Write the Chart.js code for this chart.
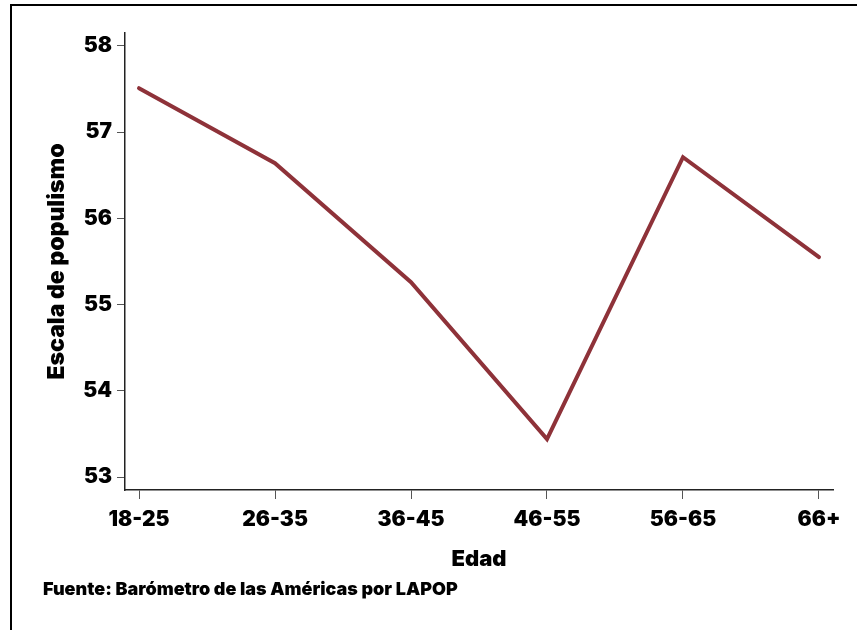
<!DOCTYPE html>
<html>
<head>
<meta charset="utf-8">
<script src="https://cdn.jsdelivr.net/npm/chart.js@4/dist/chart.umd.min.js"></script>
<style>
  html, body { margin: 0; padding: 0; background: #fff; }
  #wrap { position: relative; width: 857px; height: 630px; }
  #frame { position: absolute; left: 10px; top: 4px; right: 0; bottom: 0;
           border-left: 2.5px solid #000; border-top: 2.5px solid #000; }
</style>
</head>
<body>
<div id="wrap">
  <canvas id="myChart" width="857" height="630"></canvas>
  <div id="frame"></div>
</div>
<script>
(function() {
  'use strict';
  // age groups and mean populism score
  const categories = ["18-25", "26-35", "36-45", "46-55", "56-65", "66+"];
  const populism = [57.51, 56.64, 55.26, 53.44, 56.71, 55.55];
  const yTicks = [53, 54, 55, 56, 57, 58];

  const FONT = "Inter, 'DejaVu Sans', sans-serif";

  const chart = document.getElementById('myChart');
  new Chart(chart, {
    type: "line",
    data: {
      datasets: [{
        data: populism.map(function (v, i) { return { x: i, y: v }; }),
        borderColor: "#8E3239",
        borderWidth: 4,
        borderCapStyle: "round",
        borderJoinStyle: "miter",
        pointRadius: 0,
        tension: 0,
        fill: false
      }]
    },
    options: {
      responsive: false,
      animation: false,
      layout: { padding: { top: 33, left: 43, right: 24, bottom: 0 } },
      plugins: {
        legend: { display: false },
        tooltip: { enabled: false },
        title: {
          display: true,
          position: "bottom",
          align: "start",
          text: "Fuente: Barómetro de las Américas por LAPOP",
          color: "#000",
          font: { family: FONT, size: 18, weight: 900 },
          padding: { top: 0, bottom: 30 }
        }
      },
      scales: {
        x: {
          type: "linear",
          min: -0.103,
          max: 5.103,
          afterBuildTicks: function (scale) {
            scale.ticks = categories.map(function (c, i) { return { value: i }; });
          },
          afterFit: function (scale) { scale.height = 88.4; },
          ticks: {
            color: "#000",
            font: { family: FONT, size: 21, weight: 900 },
            padding: 8,
            maxRotation: 0,
            callback: function (v) { return categories[v]; }
          },
          grid: { drawOnChartArea: false, drawTicks: true, tickLength: 9, color: "#555" },
          border: { display: true, color: "#222", width: 1.5 },
          title: {
            display: true,
            text: "Edad",
            color: "#000",
            font: { family: FONT, size: 22, weight: 900 },
            padding: { top: 0, bottom: 6 }
          }
        },
        y: {
          type: "linear",
          min: 52.85,
          max: 58.15,
          afterBuildTicks: function (scale) {
            scale.ticks = yTicks.map(function (v) { return { value: v }; });
          },
          afterFit: function (scale) { scale.width = 82; },
          ticks: {
            color: "#000",
            font: { family: FONT, size: 21, weight: 900 },
            padding: 5
          },
          grid: { drawOnChartArea: false, drawTicks: true, tickLength: 8, color: "#555" },
          border: { display: true, color: "#222", width: 1.5 },
          title: {
            display: true,
            text: "Escala de populismo",
            color: "#000",
            font: { family: FONT, size: 23, weight: 900 },
            padding: { top: 0, bottom: 0 }
          }
        }
      }
    }
  });
})();
</script>
</body>
</html>
